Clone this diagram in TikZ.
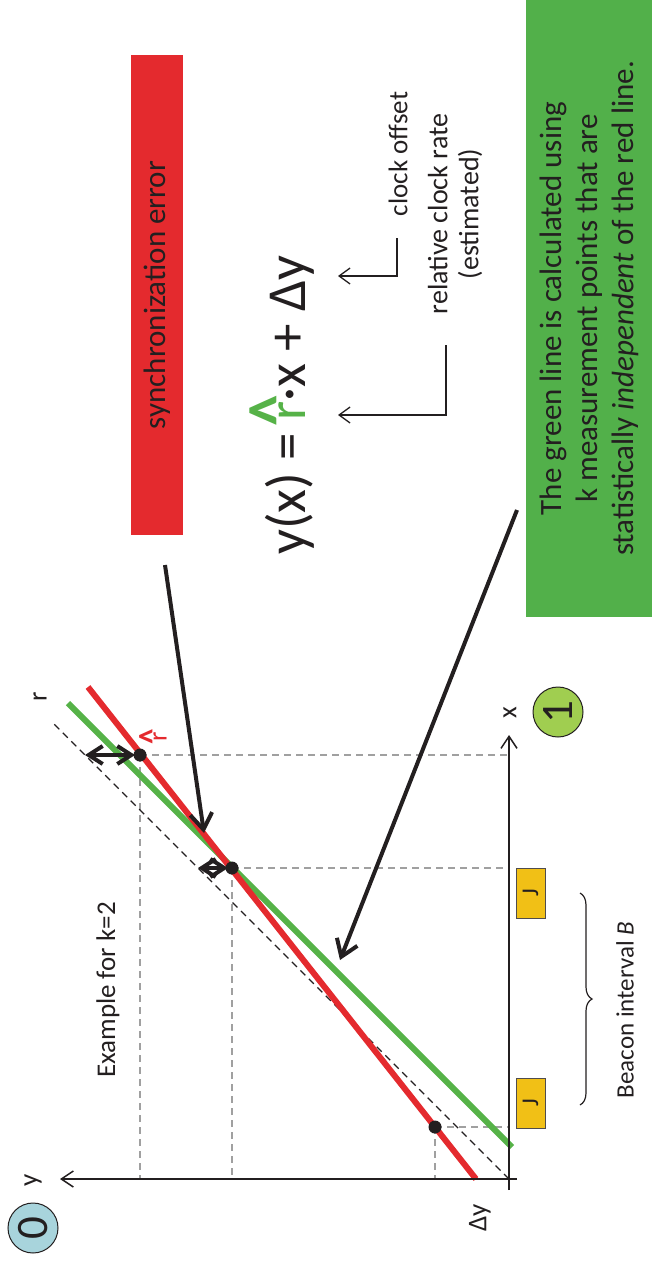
\documentclass[tikz,border=0pt]{standalone}
\usepackage{fontspec}
\usepackage{graphicx}
\setmainfont{Carlito}
\usetikzlibrary{arrows.meta,decorations.pathreplacing}
\definecolor{redc}{RGB}{228,42,46}
\definecolor{grnc}{RGB}{82,176,74}
\definecolor{grnl}{RGB}{86,178,72}
\definecolor{bluec}{RGB}{168,212,220}
\definecolor{limec}{RGB}{160,206,80}
\definecolor{yelc}{RGB}{241,192,22}
\definecolor{grayd}{RGB}{160,160,160}
\definecolor{ink}{RGB}{35,31,32}
\newcommand\hatr[1]{{\color{#1}\ooalign{r\cr\hidewidth\raisebox{0.09em}{\scalebox{1.15}[1.35]{\textbf{\textasciicircum}}}\hidewidth\cr}}}
\begin{document}
\begin{tikzpicture}[x=1pt,y=-1pt,
  lbl/.style={rotate=90,inner sep=0pt,text=ink,font=\fontsize{27}{32}\selectfont},
  axis/.style={line width=1.5pt,draw=ink,-{Straight Barb[length=12pt,width=16pt,line width=1.5pt]}},
  callout/.style={line width=1.3pt,draw=ink,-{Straight Barb[length=11pt,width=16pt,line width=1.3pt]}},
  bigarrow/.style={line width=4pt,draw=ink,-{Straight Barb[length=16pt,width=22pt,line width=4pt]}},
  errarrow/.style={line width=4pt,draw=ink,{Straight Barb[length=14pt,width=18pt,line width=4pt]}-{Straight Barb[length=14pt,width=18pt,line width=4pt]}},
  proj/.style={line width=1.3pt,draw=grayd,dash pattern=on 7pt off 5pt},
  rline/.style={line width=1.3pt,draw=ink,dash pattern=on 7pt off 5pt},
  fitline/.style={line width=6pt},
  dot/.style={circle,fill=ink,minimum size=13pt,inner sep=0pt},
  numcirc/.style={circle,draw=ink,line width=1pt,minimum size=50pt,inner sep=0pt,rotate=90,text=ink,font=\fontsize{45}{50}\selectfont},
  jbox/.style={rotate=90,draw=ink!80,line width=1pt,fill=yelc,minimum width=50pt,minimum height=29pt,inner sep=0pt,text=ink,font=\fontsize{24}{28}\selectfont},
  textbox/.style={rotate=90,inner sep=0pt,text=ink,align=center}
]
\useasboundingbox (0,0) rectangle (652,1263);

% axes
\coordinate (O) at (509,1179);
\coordinate (yend) at (517,1179);
\coordinate (ytip) at (60,1179);
\coordinate (xend) at (509,1190);
\coordinate (xtip) at (509,735);

% points
\coordinate (d1) at (140,755);
\coordinate (d2) at (232,868);
\coordinate (d3) at (435,1127);
\coordinate (d1x) at (509,755);
\coordinate (d2x) at (509,868);
\coordinate (d3x) at (509,1127);
\coordinate (d1y) at (140,1179);
\coordinate (d2y) at (232,1179);
\coordinate (d3y) at (435,1179);

% projections
\draw[proj] (d1) -- (d1x);
\draw[proj] (d2) -- (d2x);
\draw[proj] (d3) -- (d3x);
\draw[proj] (d1) -- (d1y);
\draw[proj] (d2) -- (d2y);
\draw[proj] (d3) -- (d3y);

% reference line r
\coordinate (rtop) at (52,722);
\draw[rline] (O) -- (rtop);

% fitted lines
\coordinate (redlo) at (476,1179);
\coordinate (redhi) at (88,687);
\coordinate (grnlo) at (512,1147);
\coordinate (grnhi) at (68,703);
\draw[fitline,draw=grnl] (grnlo) -- (grnhi);
\draw[fitline,draw=redc] (redlo) -- (redhi);

\draw[axis] (yend) -- (ytip);
\draw[axis] (xend) -- (xtip);

% error arrows
\coordinate (e1) at (85,755);
\coordinate (e2) at (198,868);
\draw[errarrow] (e1) -- ([xshift=-5pt]d1);
\draw[errarrow] (e2) -- ([xshift=-4pt]d2);

\node[dot] (p1) at (d1) {};
\node[dot] (p2) at (d2) {};
\node[dot] (p3) at (d3) {};

% labels
\node[lbl] (ylab) at (33,1180) {y};
\node[lbl] (xlab) at (510,713) {x};
\node[lbl] (dylab) at (480,1218) {Δy};
\node[lbl] (rlab) at (40,697) {r};
\node[lbl,text=redc] (rhatlab) at (160,737) {\hatr{redc}};

\node[numcirc,fill=bluec] (c0) at (33,1228) {0};
\node[numcirc,fill=limec] (c1) at (558,712) {1};

% beacons
\node[jbox] (j1) at (530.5,893) {J};
\node[jbox] (j2) at (530.5,1103) {J};
\coordinate (bt) at (580,893);
\coordinate (bb) at (580,1105);
\draw[line width=1.2pt,draw=ink,decorate,decoration={brace,amplitude=12pt}] (bt) -- (bb);
\node[lbl,font=\fontsize{25}{30}\selectfont] (beac) at (625,1010) {Beacon interval \textit{B}};
\node[lbl] (ex) at (108,990) {Example for k=2};

% boxes
\node[textbox,fill=redc,minimum width=480pt,minimum height=52pt,font=\fontsize{31}{36}\selectfont] (sync) at (157,295) {synchronization error};
\node[textbox,fill=grnc,minimum width=617pt,minimum height=126pt,font=\fontsize{31}{36}\selectfont] (note) at (589,308.5) {The green line is calculated using\\k measurement points that are\\statistically \textit{independent} of the red line.};

% formula
\node[lbl,font=\fontsize{55}{60}\selectfont] (formula) at (290,405) {y(x) = \hatr{grnl}·x + Δy};

% callouts
\node[lbl] (off) at (398,154) {clock offset};
\node[lbl,align=center,font=\fontsize{28}{31}\selectfont] (rate) at (455,214) {relative clock rate\\(estimated)};
\coordinate (co1) at (397,238);
\coordinate (co2) at (338,276);
\coordinate (cr1) at (446,345);
\coordinate (cr2) at (338,415);
\draw[callout] (co1) |- (co2);
\draw[callout] (cr1) |- (cr2);

% big arrows
\coordinate (a1s) at (165,565);
\coordinate (a1e) at (204,833);
\coordinate (a2s) at (517,510);
\coordinate (a2e) at (340,960);
\draw[bigarrow] (a1s) -- (a1e);
\draw[bigarrow] (a2s) -- (a2e);
\end{tikzpicture}
\end{document}
